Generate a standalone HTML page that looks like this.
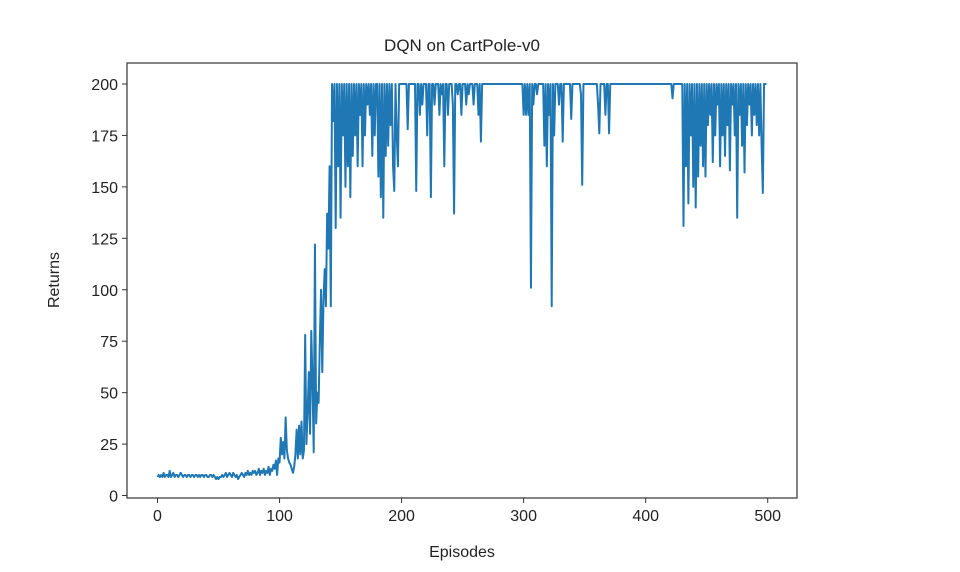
<!DOCTYPE html>
<html><head><meta charset="utf-8"><style>
html,body{margin:0;padding:0;background:#fff;}
svg{display:block;font-family:"Liberation Sans","DejaVu Sans",sans-serif;}
</style></head><body>
<svg id="chart" width="960" height="572">
<rect x="0" y="0" width="960" height="572" fill="#fff"/>
<text x="462" y="51" text-anchor="middle" font-size="17" fill="#222">DQN on CartPole-v0</text>
<text x="462" y="557" text-anchor="middle" font-size="16" fill="#222">Episodes</text>
<text x="59" y="280" text-anchor="middle" font-size="16" fill="#222" transform="rotate(-90 59 280)">Returns</text>
<g id="ticks"></g>
<g id="plot"></g>
<rect x="127" y="63" width="670" height="435" fill="none" stroke="#333" stroke-width="1.2"/>
</svg>
<script>
const xTicks = [0,100,200,300,400,500];
const yTicks = [0,25,50,75,100,125,150,175,200];
const returns = [
9,10,9,10,9,11,9,10,10,9,
12,9,10,11,9,10,10,9,10,11,
10,9,10,10,9,10,10,9,10,10,
9,10,10,9,10,9,10,10,9,10,
10,9,9,10,10,9,10,9,8,9,
8,9,9,10,9,10,11,9,10,11,
10,9,11,10,9,10,8,9,10,11,
10,9,11,10,12,10,11,10,12,11,
12,10,11,13,10,12,11,13,10,12,
11,14,10,13,12,15,13,17,10,18,
16,28,20,26,18,38,22,18,16,15,
13,11,14,20,32,18,34,20,36,18,
22,78,25,40,60,30,80,55,21,122,
35,50,45,75,100,60,95,110,92,137,
120,160,92,200,182,200,130,200,160,200,
135,200,175,200,150,200,160,200,145,200,
165,200,175,200,160,200,185,200,160,200,
175,200,190,200,185,200,165,200,175,200,
200,155,200,145,200,135,200,165,200,170,
200,180,200,160,148,200,175,160,200,200,
200,200,200,200,200,178,200,200,200,200,
200,200,148,200,200,185,200,190,200,200,
200,175,200,200,145,200,200,190,200,200,
200,185,200,195,200,160,200,200,185,200,
200,200,190,137,200,200,195,200,200,185,
200,200,200,190,200,195,200,200,200,190,
200,200,200,185,200,172,200,200,200,200,
200,200,200,200,200,200,200,200,200,200,
200,200,200,200,200,200,200,200,200,200,
200,200,200,200,200,200,200,200,200,200,
185,200,185,200,185,200,101,200,190,200,
200,195,200,200,200,200,200,170,200,160,
200,185,200,92,200,175,200,200,200,190,
200,200,172,200,200,200,200,200,200,183,
200,200,200,200,200,200,200,195,151,200,
200,200,200,200,200,200,200,200,200,200,
200,190,176,200,200,200,200,185,200,200,
176,200,200,200,200,200,200,200,200,200,
200,200,200,200,200,200,200,200,200,200,
200,200,200,200,200,200,200,200,200,200,
200,200,200,200,200,200,200,200,200,200,
200,200,200,200,200,200,200,200,200,200,
200,200,193,200,200,200,200,200,200,200,
200,131,200,160,200,142,200,175,200,150,
200,140,200,155,200,170,200,160,200,155,
200,180,200,185,200,162,200,175,200,190,
200,160,200,175,200,165,200,180,200,158,
200,190,200,175,200,135,200,185,200,170,
200,157,200,180,200,190,200,175,200,185,
200,180,200,175,200,170,147,200,200,200
];
const NS="http://www.w3.org/2000/svg";
const L=127,R=797,T=63,B=498;
const xMin=-25,xMax=524,yMin=-1.2,yMax=210.2;
function xs(v){return L+(v-xMin)/(xMax-xMin)*(R-L);}
function ys(v){return B-(v-yMin)/(yMax-yMin)*(B-T);}
const tg=document.getElementById('ticks');
xTicks.forEach(t=>{
  const ln=document.createElementNS(NS,'line');
  ln.setAttribute('x1',xs(t));ln.setAttribute('x2',xs(t));ln.setAttribute('y1',B);ln.setAttribute('y2',B+5);
  ln.setAttribute('stroke','#333');
  
  
  tg.appendChild(ln);
  const tx=document.createElementNS(NS,'text');
  tx.setAttribute('x',xs(t));tx.setAttribute('y',B+23);tx.setAttribute('text-anchor','middle');
  tx.setAttribute('font-size','16');tx.setAttribute('fill','#222');tx.textContent=t;
  
  
  tg.appendChild(tx);
});
yTicks.forEach(t=>{
  const ln=document.createElementNS(NS,'line');
  ln.setAttribute('x1',L-5);ln.setAttribute('x2',L);ln.setAttribute('y1',ys(t));ln.setAttribute('y2',ys(t));
  ln.setAttribute('stroke','#333');
  
  
  tg.appendChild(ln);
  const tx=document.createElementNS(NS,'text');
  tx.setAttribute('x',L-9);tx.setAttribute('y',ys(t)+6);tx.setAttribute('text-anchor','end');
  tx.setAttribute('font-size','16');tx.setAttribute('fill','#222');tx.textContent=t;
  
  
  tg.appendChild(tx);
});
const pg=document.getElementById('plot');
const p=document.createElementNS(NS,'polyline');
p.setAttribute('points',returns.map((v,i)=>xs(i).toFixed(2)+','+ys(v).toFixed(2)).join(' '));
p.setAttribute('fill','none');p.setAttribute('stroke','#1f77b4');p.setAttribute('stroke-width','2');
p.setAttribute('stroke-linejoin','round');


pg.appendChild(p);
</script>
</body></html>
